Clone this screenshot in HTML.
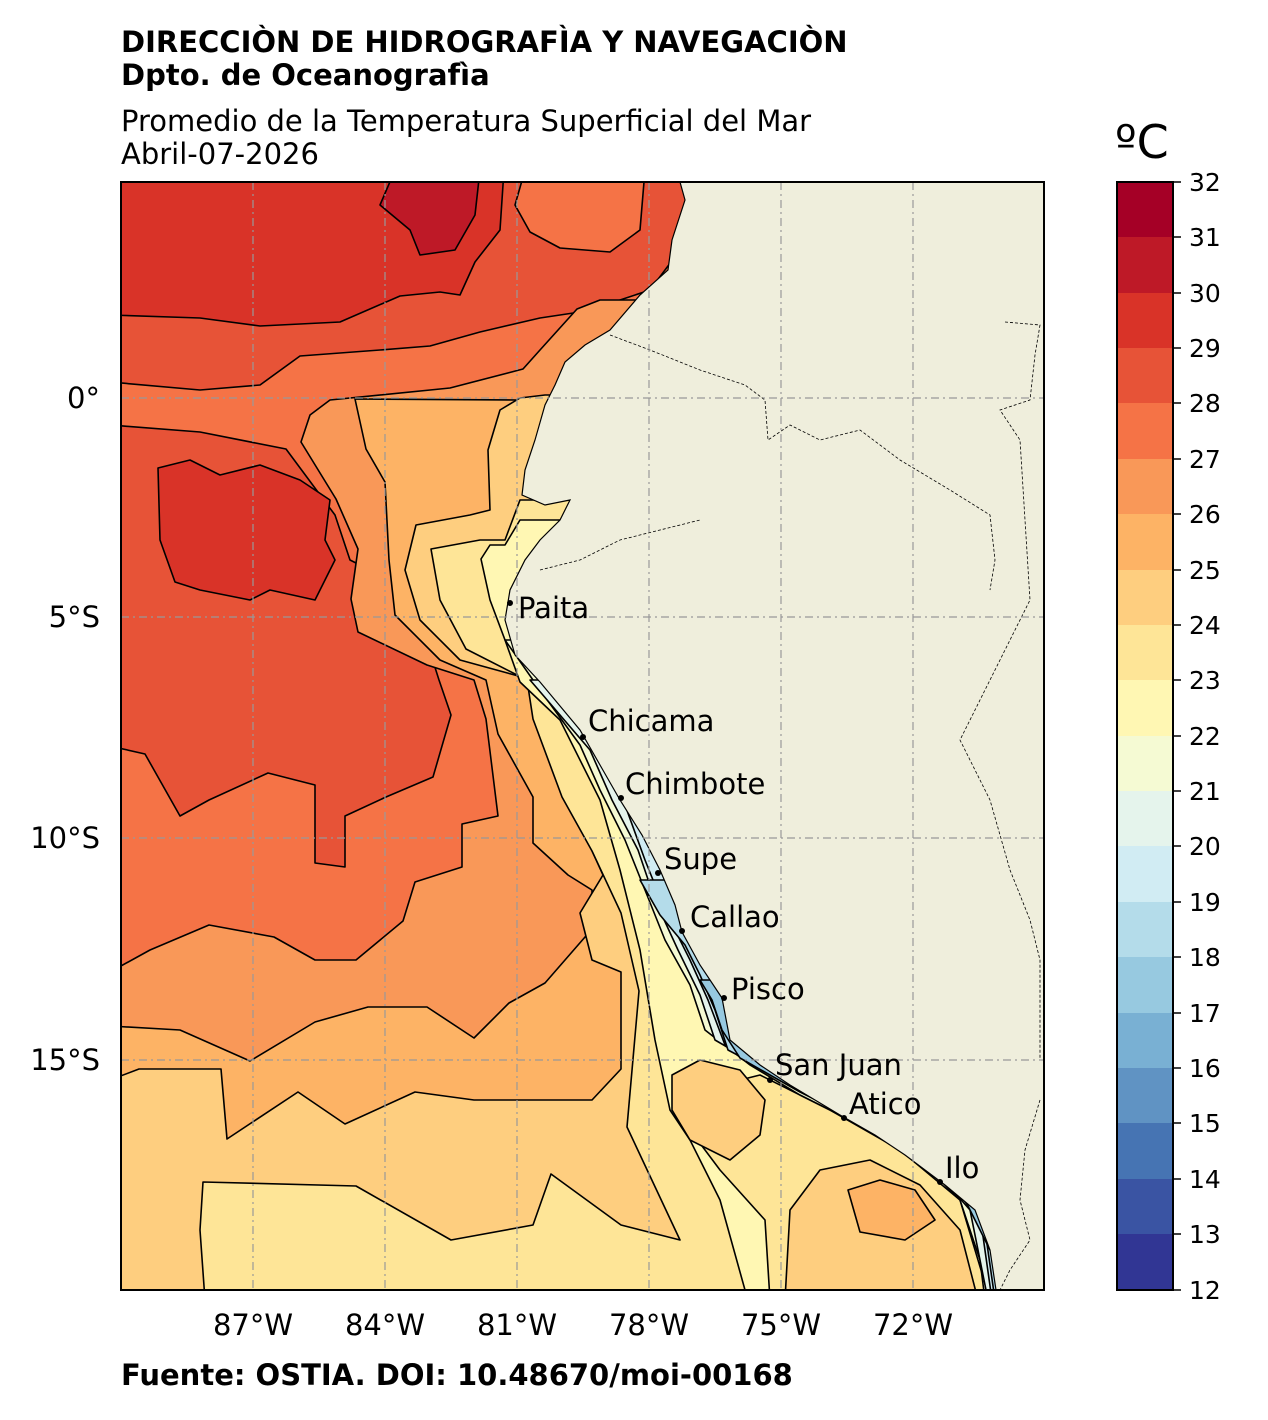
<!DOCTYPE html>
<html><head><meta charset="utf-8"><style>
body{margin:0;background:#fff;}
svg{display:block;font-family:"DejaVu Sans","Liberation Sans",sans-serif;}
</style></head><body>
<svg width="1268" height="1420" viewBox="0 0 1268 1420" xmlns="http://www.w3.org/2000/svg">
<rect width="1268" height="1420" fill="#fff"/>
<text x="121" y="52" font-size="29" font-weight="bold">DIRECCIÒN DE HIDROGRAFÌA Y NAVEGACIÒN</text>
<text x="121" y="85" font-size="29" font-weight="bold">Dpto. de Oceanografìa</text>
<text x="121" y="131" font-size="29">Promedio de la Temperatura Superficial del Mar</text>
<text x="121" y="164" font-size="29">Abril-07-2026</text>
<text x="1115" y="158" font-size="46">ºC</text>
<text x="121" y="1385" font-size="29" font-weight="bold">Fuente: OSTIA. DOI: 10.48670/moi-00168</text>
<defs><clipPath id="ax"><rect x="121" y="182" width="923" height="1108"/></clipPath></defs>
<g clip-path="url(#ax)" stroke="#000" stroke-width="1.6" stroke-linejoin="round">
<rect x="121" y="182" width="923" height="1108" fill="#f57346" stroke="none"/>
<path fill="#e75337" d="M110,170 L690,170 L680,250 L650,290 L620,300 L580,312 L540,318 L480,332 L430,346 L380,350 L300,356 L260,385 L200,390 L110,382Z"/>
<path fill="#f57346" d="M525,170 L645,170 L640,230 L610,252 L560,248 L530,232 L515,205Z"/>
<path fill="#d93328" d="M110,170 L504,170 L500,230 L475,262 L460,295 L440,292 L400,296 L340,322 L260,326 L200,318 L110,315Z"/>
<path fill="#be1927" d="M395,170 L480,170 L475,215 L455,250 L420,255 L410,230 L380,205Z"/>
<path fill="#e75337" d="M110,425 L200,432 L286,449 L335,515 L350,560 L380,575 L420,620 L439,680 L451,715 L433,777 L386,797 L345,816 L345,867 L315,863 L315,785 L268,773 L209,800 L180,816 L145,754 L110,746Z"/>
<path fill="#d93328" d="M158,468 L190,460 L220,475 L260,465 L300,480 L330,500 L325,540 L335,560 L315,600 L270,590 L250,600 L200,590 L175,582 L160,540Z"/>
<path fill="#f99858" d="M1060,300 L600,300 L577,309 L540,350 L523,369 L450,388 L330,400 L310,415 L301,442 L336,499 L358,549 L351,599 L358,632 L427,665 L474,680 L486,719 L498,816 L462,824 L462,867 L415,882 L403,921 L356,960 L315,960 L274,937 L209,925 L150,950 L110,972 L110,1300 L1060,1300Z"/>
<path fill="#fdb365" d="M1060,395 L545,398 L519,400 L355,399 L366,449 L385,482 L389,560 L395,615 L440,660 L486,680 L498,734 L533,797 L533,843 L568,875 L592,890 L592,929 L545,983 L509,1003 L474,1038 L427,1007 L368,1007 L315,1022 L250,1061 L180,1030 L110,1026 L110,1300 L1060,1300Z"/>
<path fill="#fece7f" d="M1060,395 L545,395 L520,398 L500,410 L488,450 L490,510 L470,515 L416,525 L405,570 L420,620 L460,660 L533,680 L545,738 L568,797 L603,875 L580,913 L592,960 L621,972 L621,1069 L592,1100 L474,1100 L415,1092 L345,1124 L298,1092 L227,1139 L221,1069 L139,1069 L110,1080 L110,1300 L1060,1300Z"/>
<path fill="#fee597" d="M1060,500 L520,500 L505,540 L480,540 L431,549 L440,600 L466,649 L527,680 L533,719 L562,797 L592,851 L621,913 L639,991 L627,1127 L680,1240 L621,1225 L551,1174 L533,1225 L451,1240 L356,1186 L203,1182 L200,1230 L205,1300 L1060,1300Z"/>
<path fill="#fff7b3" d="M1060,520 L520,520 L505,545 L490,545 L481,559 L490,600 L505,640 L520,682 L560,720 L600,800 L620,870 L640,950 L655,1040 L670,1110 L690,1140 L720,1200 L745,1290 L1060,1290Z"/>
<path fill="#fee597" d="M700,1090 L760,1075 L830,1110 L900,1150 L960,1200 L990,1300 L770,1300 L765,1220 L720,1170 L690,1130Z"/>
<path fill="#fece7f" d="M672,1075 L700,1060 L740,1070 L765,1100 L760,1135 L730,1160 L690,1140 L672,1110Z"/>
<path fill="#fece7f" d="M785,1300 L790,1210 L820,1170 L870,1160 L920,1185 L960,1230 L978,1300Z"/>
<path fill="#fdb365" d="M848,1190 L880,1180 L915,1190 L935,1220 L905,1240 L860,1232Z"/>
<path fill="#f5fad3" d="M1060,640 L505,640 L540,690 L580,745 L600,790 L625,840 L645,890 L665,940 L690,985 L705,1030 L750,1065 L800,1095 L860,1125 L920,1160 L960,1200 L980,1260 L985,1300 L1060,1300Z"/>
<path fill="#e5f4ec" d="M1060,680 L530,680 L590,750 L612,800 L638,850 L655,900 L678,950 L700,995 L715,1040 L770,1072 L830,1105 L880,1135 L935,1170 L970,1210 L988,1300 L1060,1300Z"/>
<path fill="#d1ecf3" d="M1060,760 L600,760 L625,805 L645,860 L665,910 L690,960 L708,1000 L725,1045 L790,1080 L850,1112 L900,1140 L945,1172 L980,1215 L992,1300 L1060,1300Z"/>
<path fill="#b4dcea" d="M1060,880 L640,880 L660,915 L685,945 L700,975 L715,1010 L728,1050 L800,1088 L850,1117 L910,1150 L950,1180 L985,1230 L995,1300 L1060,1300Z"/>
<path fill="#97c9e0" d="M1060,980 L700,980 L712,1000 L722,1030 L740,1058 L800,1092 L860,1122 L920,1158 L960,1190 L990,1250 L1060,1300Z"/>
</g>
<g clip-path="url(#ax)">
<path fill="#efeedc" stroke="#000" stroke-width="1.2" d="M680,182 L685,200 L672,240 L668,270 L640,295 L610,330 L585,345 L565,362 L555,385 L545,405 L535,440 L525,470 L522,495 L545,505 L570,500 L560,520 L540,540 L525,560 L510,590 L505,620 L515,655 L540,682 L580,730 L600,765 L620,800 L642,835 L660,870 L675,905 L682,932 L700,965 L722,998 L730,1040 L760,1065 L790,1085 L840,1115 L875,1135 L905,1155 L945,1185 L975,1210 L990,1250 L996,1290 L1044,1290 L1044,182Z"/>
<g fill="none" stroke="#000" stroke-width="0.8" stroke-dasharray="3,2">
<path d="M610,335 L650,350 L700,370 L745,385 L765,400 L768,440 L790,425 L820,440 L860,430 L900,460 L950,490 L990,515 L995,560 L990,590"/>
<path d="M1005,322 L1040,325 L1035,355 L1030,400 L1000,410 L1020,440 L1025,520 L1030,600 L1000,660 L980,700 L960,740 L990,800 L1010,870 L1030,920 L1040,960 L1040,1060"/>
<path d="M540,570 L580,560 L620,540 L660,530 L700,520"/>
<path d="M1040,1100 L1025,1150 L1020,1200 L1030,1240 L1010,1270 L1000,1290"/>
</g>
</g>
<g stroke="#999" stroke-width="1.2" stroke-dasharray="8,4,2,4" clip-path="url(#ax)">
<line x1="253" y1="182" x2="253" y2="1290"/><line x1="385" y1="182" x2="385" y2="1290"/><line x1="517" y1="182" x2="517" y2="1290"/><line x1="649" y1="182" x2="649" y2="1290"/><line x1="781" y1="182" x2="781" y2="1290"/><line x1="913" y1="182" x2="913" y2="1290"/>
<line x1="121" y1="398" x2="1044" y2="398"/><line x1="121" y1="617" x2="1044" y2="617"/><line x1="121" y1="838" x2="1044" y2="838"/><line x1="121" y1="1060" x2="1044" y2="1060"/>
</g>
<rect x="121" y="182" width="923" height="1108" fill="none" stroke="#000" stroke-width="2"/>
<g font-size="29" fill="#000">
<g fill="#000"><circle cx="510" cy="603" r="3"/><circle cx="583" cy="737" r="3"/><circle cx="621" cy="798" r="3"/><circle cx="658" cy="873" r="3"/><circle cx="682" cy="931" r="3"/><circle cx="724" cy="998" r="3"/><circle cx="770" cy="1080" r="3"/><circle cx="844" cy="1118" r="3"/><circle cx="940" cy="1182" r="3"/></g>
<text x="518" y="618">Paita</text><text x="588" y="731">Chicama</text><text x="625" y="794">Chimbote</text><text x="664" y="869">Supe</text><text x="690" y="927">Callao</text><text x="731" y="999">Pisco</text><text x="775" y="1075">San Juan</text><text x="849" y="1114">Atico</text><text x="945" y="1178">Ilo</text>
<g text-anchor="end"><text x="100" y="408">0°</text><text x="100" y="627">5°S</text><text x="100" y="848">10°S</text><text x="100" y="1070">15°S</text></g>
<g text-anchor="middle"><text x="253" y="1335">87°W</text><text x="385" y="1335">84°W</text><text x="517" y="1335">81°W</text><text x="649" y="1335">78°W</text><text x="781" y="1335">75°W</text><text x="913" y="1335">72°W</text></g>
</g>
<g stroke="none">
<rect x="1117" y="182" width="56" height="56" fill="#a50026"/><rect x="1117" y="237" width="56" height="56" fill="#be1927"/><rect x="1117" y="293" width="56" height="56" fill="#d93328"/><rect x="1117" y="348" width="56" height="56" fill="#e75337"/><rect x="1117" y="403" width="56" height="56" fill="#f57346"/><rect x="1117" y="459" width="56" height="56" fill="#f99858"/><rect x="1117" y="514" width="56" height="56" fill="#fdb365"/><rect x="1117" y="570" width="56" height="56" fill="#fece7f"/><rect x="1117" y="625" width="56" height="56" fill="#fee597"/><rect x="1117" y="680" width="56" height="56" fill="#fff7b3"/><rect x="1117" y="736" width="56" height="56" fill="#f5fad3"/><rect x="1117" y="791" width="56" height="56" fill="#e5f4ec"/><rect x="1117" y="846" width="56" height="56" fill="#d1ecf3"/><rect x="1117" y="902" width="56" height="56" fill="#b4dcea"/><rect x="1117" y="957" width="56" height="56" fill="#97c9e0"/><rect x="1117" y="1013" width="56" height="56" fill="#79b0d3"/><rect x="1117" y="1068" width="56" height="56" fill="#6093c3"/><rect x="1117" y="1123" width="56" height="56" fill="#4674b3"/><rect x="1117" y="1179" width="56" height="56" fill="#3a54a3"/><rect x="1117" y="1234" width="56" height="56" fill="#313694"/>
</g>
<rect x="1117" y="182" width="56" height="1108" fill="none" stroke="#000" stroke-width="2"/>
<g stroke="#000" stroke-width="1.5">
<line x1="1173" y1="182" x2="1181" y2="182"/><line x1="1173" y1="237" x2="1181" y2="237"/><line x1="1173" y1="293" x2="1181" y2="293"/><line x1="1173" y1="348" x2="1181" y2="348"/><line x1="1173" y1="403" x2="1181" y2="403"/><line x1="1173" y1="459" x2="1181" y2="459"/><line x1="1173" y1="514" x2="1181" y2="514"/><line x1="1173" y1="570" x2="1181" y2="570"/><line x1="1173" y1="625" x2="1181" y2="625"/><line x1="1173" y1="680" x2="1181" y2="680"/><line x1="1173" y1="736" x2="1181" y2="736"/><line x1="1173" y1="791" x2="1181" y2="791"/><line x1="1173" y1="846" x2="1181" y2="846"/><line x1="1173" y1="902" x2="1181" y2="902"/><line x1="1173" y1="957" x2="1181" y2="957"/><line x1="1173" y1="1013" x2="1181" y2="1013"/><line x1="1173" y1="1068" x2="1181" y2="1068"/><line x1="1173" y1="1123" x2="1181" y2="1123"/><line x1="1173" y1="1179" x2="1181" y2="1179"/><line x1="1173" y1="1234" x2="1181" y2="1234"/><line x1="1173" y1="1290" x2="1181" y2="1290"/>
</g>
<g font-size="25">
<text x="1189" y="191">32</text><text x="1189" y="246">31</text><text x="1189" y="302">30</text><text x="1189" y="357">29</text><text x="1189" y="412">28</text><text x="1189" y="468">27</text><text x="1189" y="523">26</text><text x="1189" y="579">25</text><text x="1189" y="634">24</text><text x="1189" y="689">23</text><text x="1189" y="745">22</text><text x="1189" y="800">21</text><text x="1189" y="855">20</text><text x="1189" y="911">19</text><text x="1189" y="966">18</text><text x="1189" y="1022">17</text><text x="1189" y="1077">16</text><text x="1189" y="1132">15</text><text x="1189" y="1188">14</text><text x="1189" y="1243">13</text><text x="1189" y="1299">12</text>
</g>
</svg>
</body></html>
